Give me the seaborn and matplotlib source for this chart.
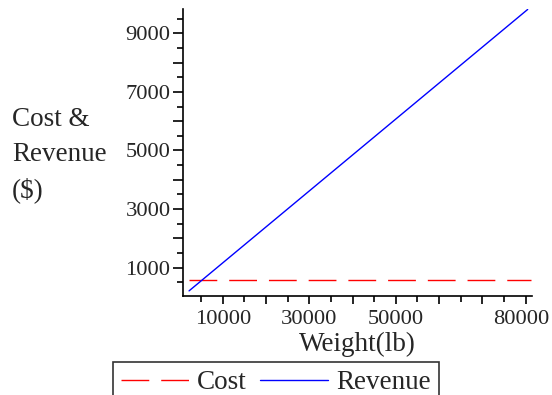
import seaborn as sns
import matplotlib.pyplot as plt
import matplotlib.ticker as mticker
import matplotlib.transforms as mtrans
import pandas as pd

# values
revenue_weight = [2200, 80500]
revenue = [205, 9815]
cost_weight = [2200, 81300]
cost = [570, 570]
xtick_labels = {10000: '10000', 30000: '30000', 50000: '50000', 80000: '80000'}
ytick_labels = [1000, 3000, 5000, 7000, 9000]

sns.set_style('ticks')
plt.rcParams['font.family'] = ['Liberation Serif', 'DejaVu Serif']
plt.rcParams['font.size'] = 16
WORD = 19.5
DIGIT = 16.2

fig = plt.figure(figsize=(5.52, 3.95), dpi=100)
ax = fig.add_axes([183 / 552, 1 - 296 / 395, (532 - 183) / 552, (296 - 9) / 395])

cost_df = pd.DataFrame({'weight': cost_weight, 'value': cost})
rev_df = pd.DataFrame({'weight': revenue_weight, 'value': revenue})

sns.lineplot(data=cost_df, x='weight', y='value', ax=ax, color='#ff0000',
             lw=1.0, label='Cost')
sns.lineplot(data=rev_df, x='weight', y='value', ax=ax, color='#0000ff',
             lw=1.0, label='Revenue')
ax.lines[0].set_dashes((20, 8.6))

ax.set_xlim(800, 81500)
ax.set_ylim(30, 9830)
sns.despine(ax=ax)
for s in ['left', 'bottom']:
    ax.spines[s].set_linewidth(1.2)
    ax.spines[s].set_color('black')

ax.xaxis.set_major_locator(mticker.MultipleLocator(10000))
ax.xaxis.set_minor_locator(mticker.MultipleLocator(5000))
ax.xaxis.set_major_formatter(mticker.FuncFormatter(lambda v, p: xtick_labels.get(int(round(v)), '')))
ax.yaxis.set_major_locator(mticker.MultipleLocator(1000))
ax.yaxis.set_minor_locator(mticker.MultipleLocator(500))
ax.yaxis.set_major_formatter(mticker.FuncFormatter(lambda v, p: str(int(round(v))) if int(round(v)) in ytick_labels else ''))
ax.tick_params(which='major', length=7, width=1.2, color='black', labelsize=DIGIT, pad=2)
ax.tick_params(which='minor', length=4, width=1.2, color='black')
ax.tick_params(axis='x', which='major', length=6, pad=4)

ax.set_xlabel('Weight(lb)', fontsize=WORD)
ax.xaxis.set_label_coords((357 - 183) / 349, -0.125)
ax.set_ylabel('')
fig.text(12 / 552, 1 - 155 / 395, 'Cost &\nRevenue\n($)', fontsize=WORD,
         ha='left', va='center', linespacing=1.5)

leg = ax.legend(loc='upper left', bbox_to_anchor=(113 / 552, 1 - 362 / 395),
                bbox_transform=fig.transFigure, ncol=2, frameon=True,
                fancybox=False, shadow=False, handlelength=2.5,
                columnspacing=0.5, handletextpad=0.3, borderpad=0.3,
                borderaxespad=0, fontsize=WORD)
leg.get_frame().set_edgecolor('black')
leg.get_frame().set_linewidth(1.2)

# the last x label sits a little left of its tick in the reference
fig.canvas.draw()
for tick in ax.xaxis.get_major_ticks():
    if abs(tick.get_loc() - 80000) < 1:
        lab = tick.label1
        lab.set_transform(lab.get_transform() + mtrans.ScaledTranslation(-0.04, 0, fig.dpi_scale_trans))

fig.savefig('out.png', dpi=100)
